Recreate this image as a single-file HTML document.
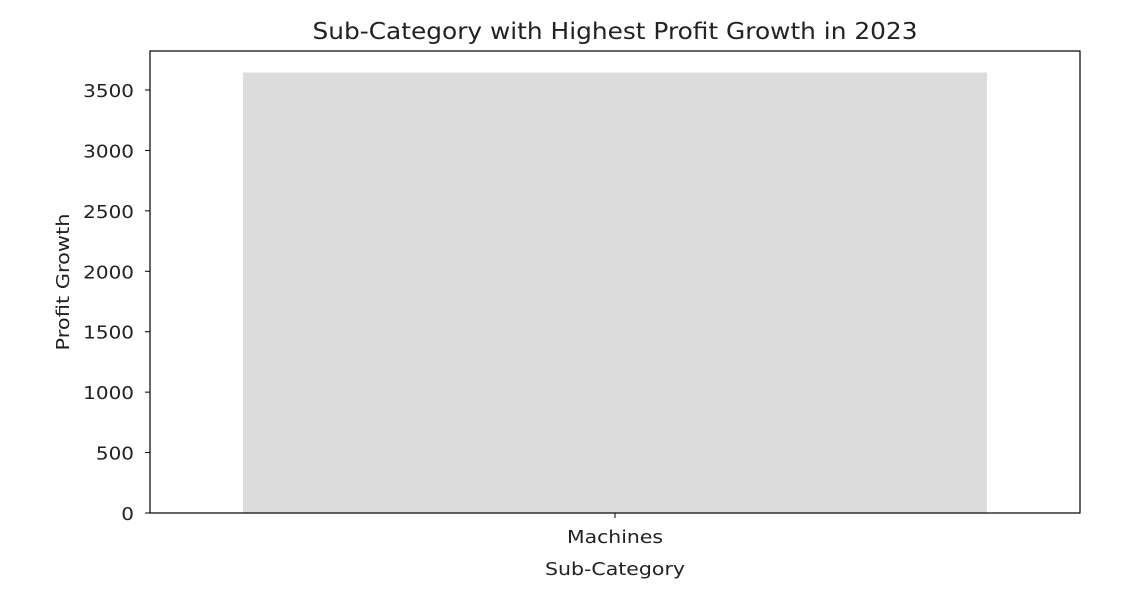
<!DOCTYPE html>
<html><head><meta charset="utf-8"><style>
html,body{margin:0;padding:0;background:#fff;}
svg{display:block;font-family:"DejaVu Sans","Liberation Sans",sans-serif;}
</style></head><body>
<svg id="chart" width="1148" height="591" viewBox="0 0 1148 591">
<text x="615" y="39" font-size="23" text-anchor="middle" fill="#222" textLength="605" lengthAdjust="spacingAndGlyphs">Sub-Category with Highest Profit Growth in 2023</text>
<g id="bars"></g>
<g id="yticks"></g>
<g id="xticks"></g>
<rect x="150" y="51" width="930" height="462" fill="none" stroke="#000" stroke-width="1.2"/>
<text x="615" y="575" font-size="18" text-anchor="middle" fill="#222" textLength="140" lengthAdjust="spacingAndGlyphs">Sub-Category</text>
<text transform="translate(69,282) rotate(-90)" font-size="18" text-anchor="middle" fill="#222" textLength="137" lengthAdjust="spacingAndGlyphs">Profit Growth</text>
</svg>
<script>
const categories = ["Machines"];
const values = [3645];
const yTicks = [0, 500, 1000, 1500, 2000, 2500, 3000, 3500];
const NS = "http://www.w3.org/2000/svg";
const x0 = 150, x1 = 1080, yBase = 513, pxPerUnit = 423 / 3500;
function y(v){ return yBase - v * pxPerUnit; }
const band = (x1 - x0) / categories.length;
function xc(i){ return x0 + band * (i + 0.5); }
const barW = band * 0.8;
const bars = document.getElementById('bars');
const yt = document.getElementById('yticks');
const xt = document.getElementById('xticks');
categories.forEach((c, i) => {
  const r = document.createElementNS(NS, 'rect');
  r.setAttribute('x', xc(i) - barW / 2);
  r.setAttribute('y', y(values[i]));
  r.setAttribute('width', barW);
  r.setAttribute('height', yBase - y(values[i]));
  r.setAttribute('fill', '#dcdcdc');
  
  
  bars.appendChild(r);
  const l = document.createElementNS(NS, 'line');
  l.setAttribute('x1', xc(i)); l.setAttribute('x2', xc(i));
  l.setAttribute('y1', yBase); l.setAttribute('y2', yBase + 5);
  l.setAttribute('stroke', '#000');
  
  
  xt.appendChild(l);
  const t = document.createElementNS(NS, 'text');
  t.setAttribute('x', xc(i)); t.setAttribute('y', yBase + 30);
  t.setAttribute('font-size', '18'); t.setAttribute('text-anchor', 'middle'); t.setAttribute('fill', '#222');
  t.setAttribute('textLength', c.length * 12); t.setAttribute('lengthAdjust', 'spacingAndGlyphs');
  t.textContent = c;
  
  
  xt.appendChild(t);
});
yTicks.forEach(v => {
  const l = document.createElementNS(NS, 'line');
  l.setAttribute('x1', x0 - 5); l.setAttribute('x2', x0);
  l.setAttribute('y1', y(v)); l.setAttribute('y2', y(v));
  l.setAttribute('stroke', '#000');
  
  
  yt.appendChild(l);
  const t = document.createElementNS(NS, 'text');
  const s = String(v);
  t.setAttribute('x', x0 - 16); t.setAttribute('y', y(v) + 7);
  t.setAttribute('font-size', '18'); t.setAttribute('text-anchor', 'end'); t.setAttribute('fill', '#222');
  t.setAttribute('textLength', s.length * 12.7); t.setAttribute('lengthAdjust', 'spacingAndGlyphs');
  t.textContent = s;
  
  
  yt.appendChild(t);
});
</script>
</body></html>
